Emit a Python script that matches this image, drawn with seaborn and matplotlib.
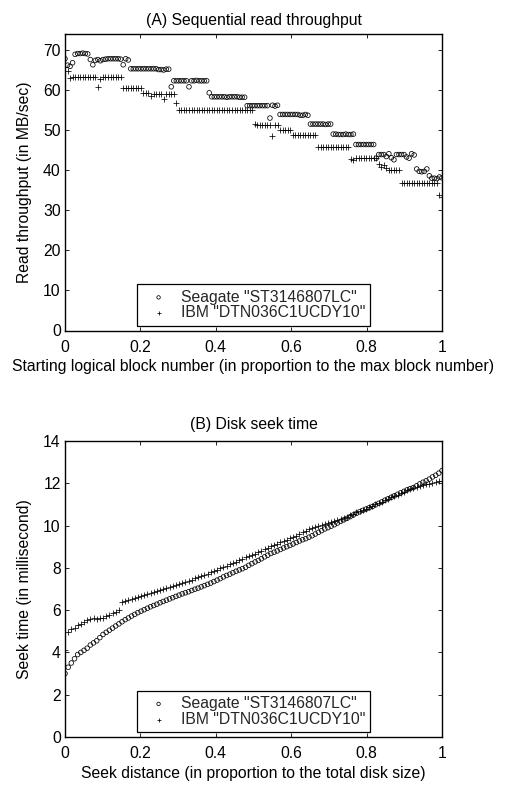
import numpy as np
import pandas as pd
import matplotlib
matplotlib.use("Agg")
import matplotlib.pyplot as plt
import seaborn as sns

sns.set_theme(style="white")
plt.rcParams['font.family'] = ['Liberation Sans', 'DejaVu Sans']

LABEL_S = 'Seagate "ST3146807LC"'
LABEL_I = 'IBM "DTN036C1UCDY10"'

# (A) Sequential read throughput (MB/sec), evenly spaced starting blocks 0..1
read_seagate = [
    67.8, 66.2, 65.9, 66.8, 68.9, 69.1, 69.1, 69.2, 69.1, 69.0,
    67.6, 66.3, 67.4, 67.6, 67.3, 67.6, 67.7, 67.8, 67.8, 67.8,
    67.8, 67.8, 67.7, 66.3, 67.8, 67.5, 65.3, 65.3, 65.3, 65.3,
    65.3, 65.3, 65.3, 65.3, 65.3, 65.3, 65.3, 65.1, 65.1, 65.0,
    65.2, 65.2, 60.8, 62.3, 62.3, 62.3, 62.3, 62.3, 62.3, 60.8,
    62.3, 62.3, 62.4, 62.3, 62.3, 62.3, 62.3, 59.3, 58.3, 58.3,
    58.3, 58.3, 58.3, 58.3, 58.2, 58.3, 58.3, 58.3, 58.3, 58.2,
    58.2, 58.2, 56.1, 56.1, 56.1, 56.1, 56.1, 56.1, 56.1, 56.1,
    56.1, 53.0, 56.2, 56.0, 56.2, 53.9, 53.9, 53.9, 53.9, 53.9,
    53.9, 53.9, 53.9, 53.7, 53.7, 53.9, 53.7, 51.5, 51.5, 51.5,
    51.5, 51.5, 51.5, 51.4, 51.5, 51.5, 49.0, 49.0, 48.9, 48.9,
    48.9, 49.0, 48.9, 48.9, 49.0, 46.4, 46.4, 46.4, 46.4, 46.4,
    46.4, 46.4, 46.4, 43.0, 43.9, 43.9, 43.9, 43.4, 44.1, 43.1,
    42.6, 43.9, 43.9, 43.9, 43.9, 43.3, 43.0, 44.1, 43.8, 40.3,
    39.7, 39.6, 39.7, 40.3, 38.6, 38.0, 38.0, 37.9, 38.3, 38.1,
]
read_ibm = [
    65.8, 64.8, 63.1, 63.3, 63.3, 63.3, 63.3, 63.3, 63.3, 63.3,
    63.3, 63.3, 63.3, 60.8, 62.8, 63.3, 63.3, 63.3, 63.3, 63.3,
    63.3, 63.3, 63.3, 60.4, 60.4, 60.4, 60.4, 60.4, 60.4, 60.4,
    60.4, 59.3, 59.3, 59.3, 58.5, 59.0, 59.0, 59.0, 59.0, 57.8,
    59.1, 59.1, 59.1, 59.1, 56.8, 54.9, 54.9, 54.9, 54.9, 54.9,
    54.9, 54.9, 54.9, 54.9, 54.9, 54.9, 54.9, 54.9, 54.9, 54.9,
    54.9, 54.9, 54.9, 54.9, 54.9, 54.9, 54.9, 54.9, 54.9, 54.9,
    54.9, 54.9, 54.9, 54.9, 54.9, 51.6, 51.3, 51.3, 51.3, 51.3,
    51.3, 51.3, 48.6, 51.3, 51.3, 50.1, 50.1, 50.1, 50.1, 50.1,
    48.9, 48.9, 48.9, 48.9, 48.9, 48.9, 48.9, 48.9, 48.9, 48.9,
    45.8, 45.8, 45.8, 45.8, 45.8, 45.8, 45.8, 45.8, 45.8, 45.8,
    45.8, 45.8, 45.8, 42.9, 42.5, 43.1, 43.1, 43.1, 43.1, 43.1,
    43.1, 43.1, 43.1, 43.1, 41.6, 40.9, 41.4, 40.5, 40.0, 40.0,
    40.0, 40.0, 40.0, 36.7, 36.7, 36.7, 36.7, 36.7, 36.7, 36.7,
    36.7, 36.7, 36.7, 36.7, 36.7, 36.7, 36.7, 36.7, 33.9, 33.2,
]

# (B) Disk seek time (ms), evenly spaced seek distances 0..1
seek_seagate = [
    3.0, 3.3, 3.5, 3.7, 3.9, 4.0, 4.1, 4.2, 4.35, 4.45,
    4.55, 4.7, 4.85, 4.95, 5.05, 5.15, 5.25, 5.35, 5.45, 5.55,
    5.63, 5.72, 5.8, 5.88, 5.95, 6.02, 6.09, 6.16, 6.22, 6.28,
    6.35, 6.41, 6.47, 6.53, 6.59, 6.65, 6.71, 6.77, 6.82, 6.87,
    6.93, 6.99, 7.04, 7.1, 7.16, 7.22, 7.28, 7.35, 7.42, 7.49,
    7.57, 7.64, 7.7, 7.77, 7.84, 7.9, 7.96, 8.03, 8.12, 8.2,
    8.28, 8.35, 8.43, 8.52, 8.6, 8.68, 8.74, 8.8, 8.87, 8.94,
    9.0, 9.06, 9.13, 9.2, 9.27, 9.33, 9.38, 9.45, 9.52, 9.6,
    9.68, 9.76, 9.84, 9.9, 9.97, 10.04, 10.12, 10.2, 10.27, 10.34,
    10.42, 10.5, 10.58, 10.65, 10.72, 10.78, 10.84, 10.9, 10.98, 11.05,
    11.12, 11.2, 11.27, 11.34, 11.41, 11.48, 11.55, 11.62, 11.69, 11.75,
    11.8, 11.88, 11.97, 12.05, 12.12, 12.2, 12.3, 12.38, 12.48, 12.6,
]
seek_ibm = [
    4.1, 4.95, 5.1, 5.15, 5.3, 5.35, 5.45, 5.55, 5.6, 5.62,
    5.6, 5.63, 5.62, 5.7, 5.78, 5.85, 5.92, 6.0, 6.4, 6.45,
    6.5, 6.52, 6.58, 6.62, 6.65, 6.7, 6.76, 6.82, 6.87, 6.9,
    6.95, 7.0, 7.04, 7.1, 7.14, 7.19, 7.24, 7.3, 7.34, 7.39,
    7.44, 7.5, 7.55, 7.61, 7.66, 7.72, 7.79, 7.85, 7.9, 7.97,
    8.03, 8.1, 8.16, 8.24, 8.3, 8.36, 8.43, 8.5, 8.55, 8.6,
    8.66, 8.73, 8.8, 8.87, 8.95, 9.05, 9.1, 9.15, 9.2, 9.28,
    9.33, 9.4, 9.46, 9.52, 9.6, 9.68, 9.76, 9.84, 9.9, 9.95,
    10.0, 10.04, 10.08, 10.12, 10.17, 10.22, 10.27, 10.32, 10.36, 10.42,
    10.48, 10.55, 10.62, 10.68, 10.74, 10.8, 10.87, 10.94, 11.0, 11.06,
    11.13, 11.2, 11.27, 11.34, 11.4, 11.46, 11.53, 11.6, 11.66, 11.72,
    11.77, 11.83, 11.88, 11.92, 11.95, 11.98, 12.02, 12.06, 12.1, 12.12,
]

FS = 11.3
W, H = 507, 785
fig = plt.figure(figsize=(W / 100, H / 100), dpi=100)
fig.patch.set_facecolor('white')


def px_axes(left, top, right, bottom):
    return fig.add_axes([left / W, 1 - bottom / H, (right - left) / W, (bottom - top) / H])


def draw(ax, ys, yi, ylim, yticks, title, xlabel, ylabel, title_pad):
    xs = np.linspace(0, 1, len(ys))
    xi = np.linspace(0, 1, len(yi))
    df_s = pd.DataFrame({'x': xs, 'y': ys})
    df_i = pd.DataFrame({'x': xi, 'y': yi})
    sns.scatterplot(data=df_s, x='x', y='y', ax=ax, marker='o', s=11,
                    color='black', facecolor='none', edgecolor='black',
                    linewidth=0.55, label=LABEL_S)
    sns.scatterplot(data=df_i, x='x', y='y', ax=ax, marker='+', s=15,
                    color='black', linewidth=0.55, label=LABEL_I)
    ax.set_xlim(0, 1)
    ax.set_ylim(*ylim)
    ax.set_xticks([0, 0.2, 0.4, 0.6, 0.8, 1])
    ax.set_xticklabels(['0', '0.2', '0.4', '0.6', '0.8', '1'])
    ax.set_yticks(yticks)
    ax.set_yticklabels([str(t) for t in yticks])
    ax.tick_params(direction='in', length=3, width=0.6, colors='black',
                   labelsize=FS, top=True, right=True, bottom=True, left=True)
    ax.tick_params(axis='x', pad=6.5)
    ax.tick_params(axis='y', pad=3)
    for sp in ax.spines.values():
        sp.set_visible(True)
        sp.set_color('black')
        sp.set_linewidth(1.0)
    ax.set_facecolor('white')
    ax.set_title(title, fontsize=FS, pad=title_pad, color='black')
    ax.set_xlabel(xlabel, fontsize=FS, labelpad=3.5, color='black')
    ax.set_ylabel(ylabel, fontsize=FS, labelpad=8, color='black')
    leg = ax.legend(loc='lower center', fontsize=FS, frameon=True, fancybox=False,
                    edgecolor='black', framealpha=1, borderaxespad=0.3,
                    handletextpad=0.35, borderpad=0.35, labelspacing=0.05,
                    handlelength=2.1, markerscale=0.75)
    leg.get_frame().set_linewidth(0.9)


ax1 = px_axes(65, 33.5, 442, 330.5)
draw(ax1, read_seagate, read_ibm, (0, 74.1), [0, 10, 20, 30, 40, 50, 60, 70],
     '(A) Sequential read throughput',
     'Starting logical block number (in proportion to the max block number)',
     'Read throughput (in MB/sec)', 6)

ax2 = px_axes(65, 441, 442, 737)
draw(ax2, seek_seagate, seek_ibm, (0, 14), [0, 2, 4, 6, 8, 10, 12, 14],
     '(B) Disk seek time',
     'Seek distance (in proportion to the total disk size)',
     'Seek time (in millisecond)', 8.5)

fig.savefig('out.png', dpi=100, facecolor='white')
